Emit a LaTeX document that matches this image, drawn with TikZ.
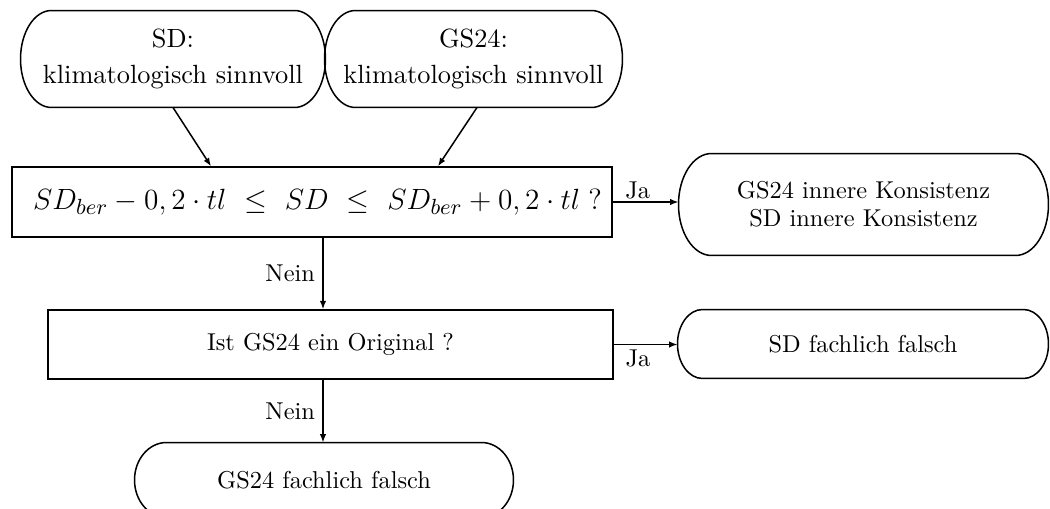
\documentclass[tikz,border=0pt]{standalone}
\usetikzlibrary{arrows.meta,calc}
% one drawing unit = 0.41pt
\newcommand\pxu{0.41pt}
\tikzset{
  every picture/.style={x=0.41pt,y=0.41pt},
  outline/.style={draw,line width=0.62pt},
  decision/.style={outline,rectangle,inner sep=0pt,align=center},
  terminal/.style={rectangle,inner sep=0pt,align=center},
  flow/.style={line width=0.62pt,-{Latex[length=3.4pt,width=2.6pt]}},
  tag/.style={inner sep=1pt,font=\fontsize{10}{12}\selectfont},
}
% rounded-end outline for a terminal node: #1 node name, #2 depth of the ends
\newcommand\stadium[2]{%
  \draw[outline] let \p1=(#1.north west), \p2=(#1.south east),
      \n1={(\y1-\y2)/2}, \n2={#2*\pxu} in
    (\x1+\n2,\y1) -- (\x2-\n2,\y1)
    arc[start angle=90,end angle=-90,x radius=\n2,y radius=\n1]
    -- (\x1+\n2,\y2)
    arc[start angle=270,end angle=90,x radius=\n2,y radius=\n1] -- cycle;}
\begin{document}
\begin{tikzpicture}
\useasboundingbox (0,0) rectangle (1050,-509);
\clip (0,0) rectangle (1050,-509);

% input nodes
\node[terminal,minimum width=304*\pxu,minimum height=96*\pxu,
      font=\fontsize{10.8}{14.5}\selectfont] (sd) at (173,-59)
      {SD:\\klimatologisch sinnvoll};
\node[terminal,minimum width=297*\pxu,minimum height=96*\pxu,
      font=\fontsize{10.8}{14.5}\selectfont] (gs) at (473.5,-59)
      {GS24:\\klimatologisch sinnvoll};
\stadium{sd}{31}
\stadium{gs}{31}

% first test
\node[decision,minimum width=600*\pxu,minimum height=70*\pxu,
      font=\fontsize{12.3}{14}\selectfont] (q1) at (312,-202)
      {\hspace*{4.5pt}$SD_{ber}-0,2\cdot tl\ \leq\ SD\ \leq\ SD_{ber}+0,2\cdot tl\;?$};

\node[terminal,minimum width=369*\pxu,minimum height=101*\pxu,
      font=\fontsize{10}{11.5}\selectfont] (kons) at (863.5,-204.5)
      {GS24 innere Konsistenz\\SD innere Konsistenz};
\stadium{kons}{33}

% second test
\node[decision,minimum width=565*\pxu,minimum height=69*\pxu,
      font=\fontsize{10}{12}\selectfont] (q2) at (330.5,-344.5)
      {Ist GS24 ein Original ?};

\node[terminal,minimum width=370*\pxu,minimum height=68*\pxu,
      font=\fontsize{10}{12}\selectfont] (sdf) at (863,-344)
      {SD fachlich falsch};
\stadium{sdf}{25}

\node[terminal,minimum width=378*\pxu,minimum height=74*\pxu,
      font=\fontsize{10}{12}\selectfont] (gsf) at (324,-480)
      {GS24 fachlich falsch};
\stadium{gsf}{32}

% connectors
\draw[flow] (sd.south) -- ([xshift=-101*\pxu]q1.north);
\draw[flow] ([xshift=3.5*\pxu]gs.south) -- ([xshift=126*\pxu]q1.north);
\draw[flow] (q1.east) -- (q1.east -| kons.west)
  node[tag,pos=0.38,above] {Ja};
\draw[flow] ([xshift=11*\pxu]q1.south) coordinate (n1)
  -- (n1 |- q2.north) node[tag,midway,left,inner sep=3pt] {Nein};
\draw[flow] (q2.east) -- (q2.east -| sdf.west)
  node[tag,pos=0.38,below,inner sep=2pt] {Ja};
\draw[flow] ([xshift=-7.5*\pxu]q2.south) coordinate (n2)
  -- (n2 |- gsf.north) node[tag,midway,left,inner sep=3pt] {Nein};
\end{tikzpicture}
\end{document}
